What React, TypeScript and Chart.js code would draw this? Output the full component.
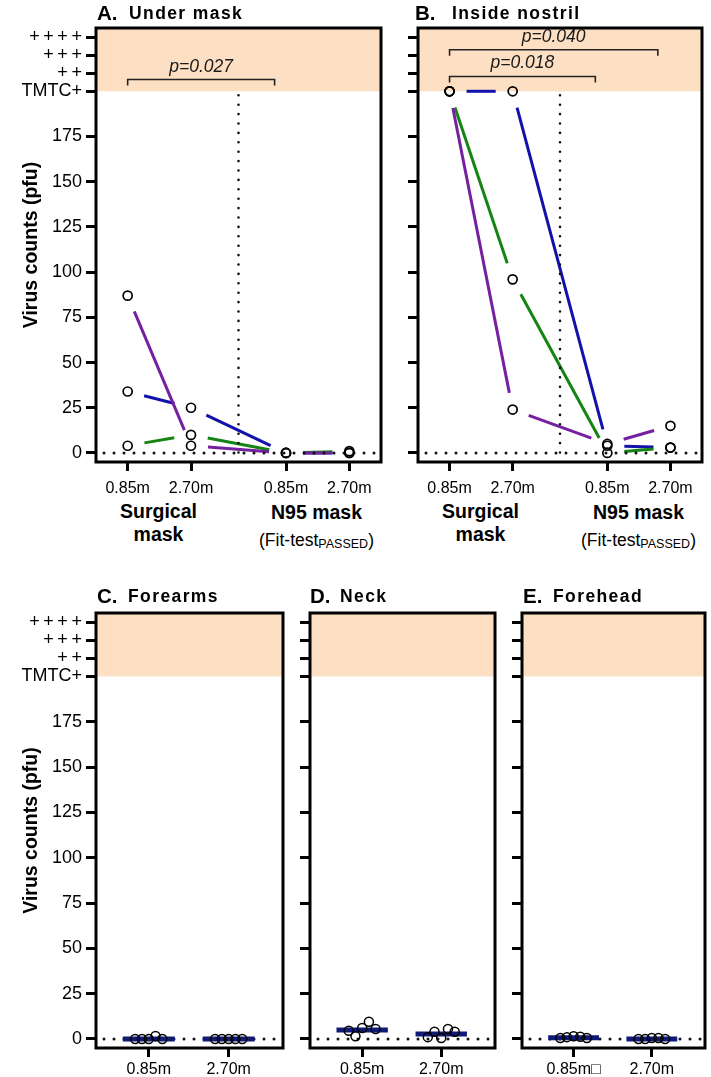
import React, { useEffect, useRef } from 'react';
import { Chart, registerables } from 'chart.js';

Chart.register(...registerables);

const FONT = '"Liberation Sans", Arial, Helvetica, sans-serif';
Chart.defaults.font.family = FONT;
Chart.defaults.color = '#000';

// ---------- shared y axis ----------
const yTickValues = [0, 25, 50, 75, 100, 125, 150, 175, 200, 210, 220, 230];
const yTickLabels = ['0', '25', '50', '75', '100', '125', '150', '175', 'TMTC+', '+\u2009+', '+\u2009+\u2009+', '+\u2009+\u2009+\u2009+'];
const yRange = [-5, 235];
const tmtcValue = 200;

// ---------- panels A & B (mask comparison) ----------
const maskPositions = [1, 2, 3.5, 4.5];
const maskTickLabels = ['0.85m', '2.70m', '0.85m', '2.70m'];
const maskRange = [0.5, 5];
const maskDivider = 2.75;

const underMaskBlue = [34, 25, 0, 0];
const underMaskGreen = [4, 10, 0, 1];
const underMaskPurple = [87, 4, 0, 0];

const nostrilBlue = [200, 200, 4, 3];
const nostrilGreen = [200, 96, 0, 3];
const nostrilPurple = [200, 24, 5, 15];

const underMaskBracketFrom = [1];
const underMaskBracketTo = [3.32];
const underMaskBracketY = [206.5];
const underMaskBracketText = ['p=0.027'];

const nostrilBracketFrom = [1, 1];
const nostrilBracketTo = [4.3, 3.31];
const nostrilBracketY = [223, 208.2];
const nostrilBracketText = ['p=0.040', 'p=0.018'];

// ---------- panels C, D, E (distance) ----------
const distPositions = [1, 2];
const distTickLabels = ['0.85m', '2.70m'];
const distTickLabelsE = ['0.85m\u25A1', '2.70m'];
const distRange = [0.34, 2.68];
const jitter = [-0.17, -0.085, 0, 0.085, 0.17];

const forearms085 = [0, 0, 0, 1.6, 0];
const forearms270 = [0, 0, 0, 0, 0];
const forearmsMedian = [0, 0];

const neck085 = [4.5, 1.5, 6, 9.5, 5.5];
const neck270 = [1, 4, 0.5, 5.5, 4];
const neckMedian = [5, 2.7];

const forehead085 = [0.5, 1, 1.5, 1.2, 0.5];
const forehead270 = [0, 0, 0.5, 0.5, 0];
const foreheadMedian = [0.7, 0];

// ---------- styles ----------
const BLUE = '#1212aa';
const GREEN = '#148414';
const PURPLE = '#7420a0';
const NAVY = '#101a78';
const BAND = '#fde0c4';
const GAP = 17;
const MEDIAN_HALF = 0.325;

type Spec = {
  left: number; top: number; w: number; h: number;
  area: { l: number; t: number; r: number; b: number };
  xRange: number[]; xTicks: number[]; xLabels: string[]; xPad: number;
  yLabels: boolean; yTitle: boolean;
  divider: number | null;
  brackets: { from: number[]; to: number[]; y: number[]; text: string[] } | null;
  datasets: any[];
};

function makeDecor(spec: Spec) {
  return {
    id: 'decor',
    beforeDraw(chart: any) {
      const { ctx, chartArea: a, scales } = chart;
      const yT = scales.y.getPixelForValue(tmtcValue);
      ctx.save();
      ctx.fillStyle = BAND;
      ctx.fillRect(a.left, a.top, a.right - a.left, yT - a.top);
      ctx.restore();
    },
    beforeDatasetsDraw(chart: any) {
      const { ctx, chartArea: a, scales } = chart;
      // gapped connecting lines
      chart.data.datasets.forEach((ds: any, i: number) => {
        if (!ds.gapLine) return;
        const pts = chart.getDatasetMeta(i).data;
        ctx.save();
        ctx.strokeStyle = ds.borderColor;
        ctx.lineWidth = ds.borderWidth;
        ctx.lineCap = 'butt';
        for (let k = 0; k < pts.length - 1; k++) {
          const p0 = pts[k], p1 = pts[k + 1];
          const dx = p1.x - p0.x, dy = p1.y - p0.y;
          const L = Math.hypot(dx, dy);
          if (L <= 2 * GAP) continue;
          const ux = dx / L, uy = dy / L;
          ctx.beginPath();
          ctx.moveTo(p0.x + ux * GAP, p0.y + uy * GAP);
          ctx.lineTo(p1.x - ux * GAP, p1.y - uy * GAP);
          ctx.stroke();
        }
        ctx.restore();
      });
      const y0 = scales.y.getPixelForValue(0);
      const yT = scales.y.getPixelForValue(tmtcValue);
      ctx.save();
      ctx.strokeStyle = '#111';
      ctx.lineCap = 'round';
      ctx.lineWidth = 3;
      ctx.setLineDash([0, 10]);
      ctx.beginPath();
      ctx.moveTo(a.left + 8, y0);
      ctx.lineTo(a.right - 1, y0);
      ctx.stroke();
      if (spec.divider != null) {
        const xd = scales.x.getPixelForValue(spec.divider);
        ctx.lineWidth = 2.6;
        ctx.setLineDash([0, 9.4]);
        ctx.beginPath();
        ctx.moveTo(xd, yT + 4);
        ctx.lineTo(xd, y0 + 2);
        ctx.stroke();
      }
      ctx.restore();
    },
    afterDraw(chart: any) {
      const { ctx, chartArea: a, scales } = chart;
      ctx.save();
      ctx.strokeStyle = '#000';
      ctx.lineWidth = 3;
      ctx.strokeRect(a.left, a.top, a.right - a.left, a.bottom - a.top);
      if (spec.brackets) {
        const b = spec.brackets;
        ctx.strokeStyle = '#222';
        ctx.fillStyle = '#1a1a1a';
        ctx.lineWidth = 1.6;
        ctx.font = `italic 17.5px ${FONT}`;
        ctx.textAlign = 'center';
        ctx.textBaseline = 'alphabetic';
        for (let i = 0; i < b.from.length; i++) {
          const x1 = scales.x.getPixelForValue(b.from[i]);
          const x2 = scales.x.getPixelForValue(b.to[i]);
          const yb = scales.y.getPixelForValue(b.y[i]);
          ctx.beginPath();
          ctx.moveTo(x1, yb + 6);
          ctx.lineTo(x1, yb);
          ctx.lineTo(x2, yb);
          ctx.lineTo(x2, yb + 6);
          ctx.stroke();
          ctx.fillText(b.text[i], (x1 + x2) / 2, yb - 8);
        }
      }
      ctx.restore();
    },
  };
}

function yLabelFor(v: number) {
  const i = yTickValues.indexOf(v);
  return i >= 0 ? yTickLabels[i] : '';
}

function buildConfig(spec: Spec): any {
  const yWidth = spec.area.l - spec.left;
  const padRight = spec.left + spec.w - spec.area.r;
  const padTop = spec.area.t - spec.top;
  const xHeight = spec.top + spec.h - spec.area.b;
  return {
    type: 'line',
    data: { datasets: spec.datasets },
    options: {
      responsive: false,
      maintainAspectRatio: false,
      animation: false,
      devicePixelRatio: 1,
      events: [],
      layout: { padding: { left: 0, top: padTop, right: padRight, bottom: 0 } },
      plugins: { legend: { display: false }, tooltip: { enabled: false }, title: { display: false } },
      scales: {
        x: {
          type: 'linear',
          min: spec.xRange[0],
          max: spec.xRange[1],
          afterBuildTicks: (s: any) => { s.ticks = spec.xTicks.map((v) => ({ value: v })); },
          ticks: {
            autoSkip: false,
            maxRotation: 0,
            minRotation: 0,
            padding: spec.xPad,
            color: '#000',
            font: { family: FONT, size: 16 },
            callback: (_v: any, i: number) => spec.xLabels[i],
          },
          grid: { drawOnChartArea: false, drawTicks: true, tickLength: 9, tickWidth: 3, tickColor: '#000' },
          border: { display: false },
          afterFit: (s: any) => { s.height = xHeight; },
        },
        y: {
          type: 'linear',
          min: yRange[0],
          max: yRange[1],
          afterBuildTicks: (s: any) => { s.ticks = yTickValues.map((v) => ({ value: v })); },
          ticks: {
            autoSkip: false,
            padding: 4,
            color: '#000',
            font: { family: FONT, size: 18 },
            callback: (v: any) => (spec.yLabels ? yLabelFor(Number(v)) : ''),
          },
          grid: { drawOnChartArea: false, drawTicks: true, tickLength: 10, tickWidth: 3, tickColor: '#000' },
          border: { display: false },
          title: {
            display: spec.yTitle,
            text: 'Virus counts (pfu)',
            color: '#000',
            font: { family: FONT, size: 19.5, weight: 'bold' },
            padding: { top: 20, bottom: 0 },
          },
          afterFit: (s: any) => { s.width = yWidth; },
        },
      },
    },
    plugins: [makeDecor(spec)],
  };
}

function maskDatasets(series: { name: string; values: number[]; color: string }[]) {
  const circles = {
    label: 'subjects',
    data: series.flatMap((s) => maskPositions.map((x, k) => ({ x, y: s.values[k] }))),
    showLine: false,
    pointRadius: 4.5,
    pointBorderWidth: 1.7,
    pointBorderColor: '#000',
    pointBackgroundColor: 'rgba(0,0,0,0)',
    order: 0,
  };
  const lines = series.map((s) => ({
    label: s.name,
    data: maskPositions.map((x, k) => ({ x, y: s.values[k] })),
    showLine: false,
    pointRadius: 0,
    borderColor: s.color,
    borderWidth: 3,
    gapLine: true,
    order: 1,
  }));
  return [circles, ...lines];
}

function distDatasets(groups: number[][], medians: number[]) {
  const circles = {
    label: 'samples',
    data: groups.flatMap((vals, g) => vals.map((v, j) => ({ x: distPositions[g] + jitter[j], y: v }))),
    showLine: false,
    pointRadius: 4.5,
    pointBorderWidth: 1.5,
    pointBorderColor: '#000',
    pointBackgroundColor: 'rgba(0,0,0,0)',
    order: 0,
  };
  const bars = medians.map((m, g) => ({
    label: 'median',
    data: [
      { x: distPositions[g] - MEDIAN_HALF, y: m },
      { x: distPositions[g] + MEDIAN_HALF, y: m },
    ],
    showLine: true,
    borderColor: NAVY,
    borderWidth: 5,
    borderCapStyle: 'butt',
    pointRadius: 0,
    order: 1,
  }));
  return [circles, ...bars];
}

const specs: Spec[] = [
  {
    left: 0, top: 0, w: 395, h: 500, area: { l: 96, t: 28, r: 381, b: 462 },
    xRange: maskRange, xTicks: maskPositions, xLabels: maskTickLabels, xPad: 8,
    yLabels: true, yTitle: true, divider: maskDivider,
    brackets: { from: underMaskBracketFrom, to: underMaskBracketTo, y: underMaskBracketY, text: underMaskBracketText },
    datasets: maskDatasets([
      { name: 'blue', values: underMaskBlue, color: BLUE },
      { name: 'green', values: underMaskGreen, color: GREEN },
      { name: 'purple', values: underMaskPurple, color: PURPLE },
    ]),
  },
  {
    left: 395, top: 0, w: 316, h: 500, area: { l: 418, t: 28, r: 702, b: 462 },
    xRange: maskRange, xTicks: maskPositions, xLabels: maskTickLabels, xPad: 8,
    yLabels: false, yTitle: false, divider: maskDivider,
    brackets: { from: nostrilBracketFrom, to: nostrilBracketTo, y: nostrilBracketY, text: nostrilBracketText },
    datasets: maskDatasets([
      { name: 'blue', values: nostrilBlue, color: BLUE },
      { name: 'green', values: nostrilGreen, color: GREEN },
      { name: 'purple', values: nostrilPurple, color: PURPLE },
    ]),
  },
  {
    left: 0, top: 560, w: 297, h: 517, area: { l: 96, t: 613, r: 283, b: 1048 },
    xRange: distRange, xTicks: distPositions, xLabels: distTickLabels, xPad: 3,
    yLabels: true, yTitle: true, divider: null, brackets: null,
    datasets: distDatasets([forearms085, forearms270], forearmsMedian),
  },
  {
    left: 297, top: 560, w: 212, h: 517, area: { l: 310, t: 613, r: 495, b: 1048 },
    xRange: distRange, xTicks: distPositions, xLabels: distTickLabels, xPad: 3,
    yLabels: false, yTitle: false, divider: null, brackets: null,
    datasets: distDatasets([neck085, neck270], neckMedian),
  },
  {
    left: 509, top: 560, w: 202, h: 517, area: { l: 522, t: 613, r: 706, b: 1048 },
    xRange: distRange, xTicks: distPositions, xLabels: distTickLabelsE, xPad: 3,
    yLabels: false, yTitle: false, divider: null, brackets: null,
    datasets: distDatasets([forehead085, forehead270], foreheadMedian),
  },
];

function Panel({ spec }: { spec: Spec }) {
  const ref = useRef<HTMLCanvasElement>(null);
  useEffect(() => {
    const chart = new Chart(ref.current as HTMLCanvasElement, buildConfig(spec));
    return () => chart.destroy();
  }, [spec]);
  return (
    <canvas
      ref={ref}
      width={spec.w}
      height={spec.h}
      style={{ position: 'absolute', left: spec.left, top: spec.top, width: spec.w, height: spec.h }}
    />
  );
}

const titles = [
  { letter: 'A.', text: 'Under mask', x: 97, tx: 129, base: 20 },
  { letter: 'B.', text: 'Inside nostril', x: 415, tx: 452, base: 20 },
  { letter: 'C.', text: 'Forearms', x: 97, tx: 128, base: 603 },
  { letter: 'D.', text: 'Neck', x: 310, tx: 340, base: 603 },
  { letter: 'E.', text: 'Forehead', x: 523, tx: 553, base: 603 },
];

const groupCenters = [158.5, 316.5, 480.5, 638.5];

function Title({ t }: { t: typeof titles[number] }) {
  const common: React.CSSProperties = { position: 'absolute', lineHeight: 1, fontWeight: 700, whiteSpace: 'nowrap', fontFamily: FONT, color: '#000' };
  return (
    <>
      <span style={{ ...common, left: t.x, top: t.base - 0.8465 * 20.5, fontSize: 20.5 }}>{t.letter}</span>
      <span style={{ ...common, left: t.tx, top: t.base - 0.8465 * 17.5, fontSize: 17.5, letterSpacing: 1.4 }}>{t.text}</span>
    </>
  );
}

function Line({ cx, base, size, bold, children }: { cx: number; base: number; size: number; bold: boolean; children: React.ReactNode }) {
  return (
    <div
      style={{
        position: 'absolute', left: cx - 100, width: 200, textAlign: 'center',
        top: base - 0.8465 * size, fontSize: size, lineHeight: 1, fontWeight: bold ? 700 : 400,
        fontFamily: FONT, color: '#000', whiteSpace: 'nowrap',
      }}
    >
      {children}
    </div>
  );
}

export default function App() {
  return (
    <div style={{ position: 'absolute', left: 0, top: 0, width: 711, height: 1077, background: '#fff', overflow: 'hidden' }}>
      {specs.map((s, i) => <Panel key={i} spec={s} />)}
      {titles.map((t, i) => <Title key={i} t={t} />)}
      {[0, 2].map((g) => (
        <React.Fragment key={'s' + g}>
          <Line cx={groupCenters[g]} base={519} size={19.5} bold>Surgical</Line>
          <Line cx={groupCenters[g]} base={542} size={19.5} bold>mask</Line>
        </React.Fragment>
      ))}
      {[1, 3].map((g) => (
        <React.Fragment key={'n' + g}>
          <Line cx={groupCenters[g]} base={520} size={19.5} bold>N95 mask</Line>
          <Line cx={groupCenters[g]} base={546.5} size={17.5} bold={false}>
            (Fit-test<span style={{ fontSize: 12.5, verticalAlign: '-1.5px' }}>PASSED</span>)
          </Line>
        </React.Fragment>
      ))}
    </div>
  );
}
